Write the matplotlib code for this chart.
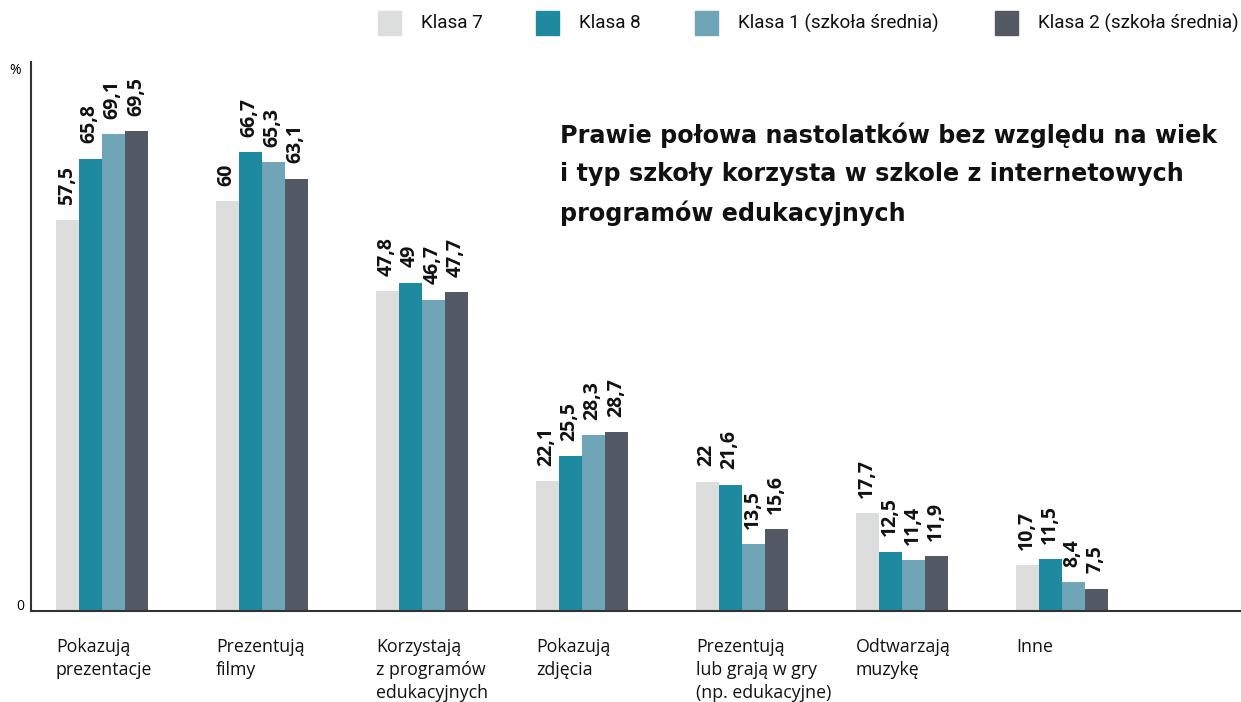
import numpy as np
import matplotlib.pyplot as plt
from matplotlib.patches import Rectangle

categories = ["Pokazują\nprezentacje", "Prezentują\nfilmy", "Korzystają\nz programów\nedukacyjnych",
              "Pokazują\nzdjęcia", "Prezentują\nlub grają w gry\n(np. edukacyjne)", "Odtwarzają\nmuzykę", "Inne"]
series = ["Klasa 7", "Klasa 8", "Klasa 1 (szkoła średnia)", "Klasa 2 (szkoła średnia)"]
klasa7 = [57.5, 60, 47.8, 22.1, 22, 17.7, 10.7]
klasa8 = [65.8, 66.7, 49, 25.5, 21.6, 12.5, 11.5]
klasa1 = [69.1, 65.3, 46.7, 28.3, 13.5, 11.4, 8.4]
klasa2 = [69.5, 63.1, 47.7, 28.7, 15.6, 11.9, 7.5]
colors = ["#dcdddd", "#1d8aa0", "#6fa5b7", "#535865"]

plt.rcParams['font.family'] = ['Open Sans', 'DejaVu Sans']

fig = plt.figure(figsize=(12.41, 7.02), dpi=100)
ax = fig.add_axes([31 / 1241, 91 / 702, 1210 / 1241, 549 / 702])

x = np.arange(len(categories))
w = 0.144
values = [klasa7, klasa8, klasa1, klasa2]
for k, (vals, col) in enumerate(zip(values, colors)):
    pos = x + (k - 1.5) * w
    ax.bar(pos, vals, width=w, color=col, label=series[k])
    for p, v in zip(pos, vals):
        ax.annotate(f"{v:g}".replace(".", ","), (p, v), xytext=(-0.5, 11), textcoords="offset points",
                    rotation=90, ha="center", va="bottom", fontsize=14, fontweight="bold",
                    color="#111111")

# the original axis does not start at zero
ax.set_xlim(-0.444, 7.12)
ax.set_ylim(4.47, 78.9)
ax.set_xticks([])
ax.set_yticks([])
for s in ["top", "right"]:
    ax.spines[s].set_visible(False)
ax.spines["left"].set_color("#333333")
ax.spines["bottom"].set_color("#333333")
ax.spines["left"].set_linewidth(1.5)
ax.spines["bottom"].set_linewidth(1.5)

fig.text(15 / 1241, 1 - 70 / 702, "%", ha="center", va="center", fontsize=10)
fig.text(20 / 1241, 1 - 607 / 702, "0", ha="center", va="center", fontsize=10)

# category labels
for i, c in enumerate(categories):
    ax.text(i - 2 * w, -0.05, c, transform=ax.get_xaxis_transform(), ha="left", va="top",
            fontsize=12.8, linespacing=1.33, color="#111111")

fig.text(560 / 1241, 1 - 123 / 702,
         "Prawie połowa nastolatków bez względu na wiek\ni typ szkoły korzysta w szkole z internetowych\nprogramów edukacyjnych",
         ha="left", va="top", fontsize=17.2, fontweight="bold", family="DejaVu Sans",
         linespacing=1.7, color="#111111")

# legend
leg_x = [378, 536, 695, 995]
for lx, col, name in zip(leg_x, colors, series):
    fig.patches.append(Rectangle((lx / 1241, 1 - 35 / 702), 23 / 1241, 24 / 702,
                                 transform=fig.transFigure, color=col))
    fig.text((lx + 43) / 1241, 1 - 23 / 702, name, ha="left", va="center", fontsize=13.6,
             family="Roboto", color="#111111")

plt.savefig("out.png")
